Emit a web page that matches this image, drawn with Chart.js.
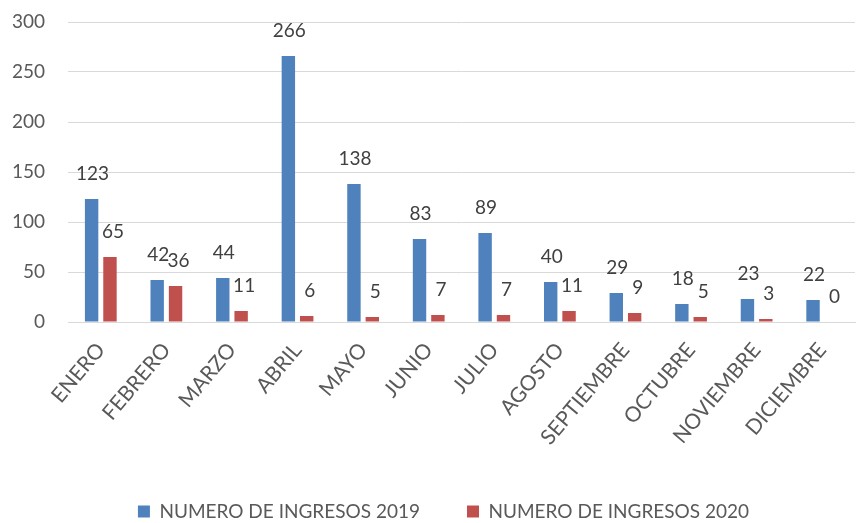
<!DOCTYPE html>
<html>
<head>
<meta charset="utf-8">
<script src="https://cdn.jsdelivr.net/npm/chart.js@4.4.1/dist/chart.umd.min.js"></script>
<style>
  html, body { margin: 0; padding: 0; background: #fff; }
  #wrap { width: 860px; height: 523px; position: relative; }
</style>
</head>
<body>
<div id="wrap"><canvas id="chart"></canvas></div>
<script>
const months = ['ENERO', 'FEBRERO', 'MARZO', 'ABRIL', 'MAYO', 'JUNIO', 'JULIO', 'AGOSTO', 'SEPTIEMBRE', 'OCTUBRE', 'NOVIEMBRE', 'DICIEMBRE'];
const ingresos2019 = [123, 42, 44, 266, 138, 83, 89, 40, 29, 18, 23, 22];
const ingresos2020 = [65, 36, 11, 6, 5, 7, 7, 11, 9, 5, 3, 0];
const yTicks = [0, 50, 100, 150, 200, 250, 300];

const FONT = "Lato, 'Noto Sans', sans-serif";
const TEXT = '#595959';

// value labels above each bar
const barLabels = {
  id: 'barLabels',
  afterDatasetsDraw(chart) {
    const ctx = chart.ctx;
    ctx.save();
    ctx.font = `19px ${FONT}`;
    ctx.fillStyle = '#404040';
    ctx.textAlign = 'center';
    ctx.textBaseline = 'bottom';
    chart.data.datasets.forEach((ds, i) => {
      const meta = chart.getDatasetMeta(i);
      meta.data.forEach((bar, j) => {
        ctx.fillText(String(ds.data[j]), bar.x + (i === 0 ? 1 : 3), bar.y - 16);
      });
    });
    ctx.restore();
  }
};

// legend sits a bit right of centre in the original
const legendShift = {
  id: 'legendShift',
  afterLayout(chart) {
    const lg = chart.legend;
    if (!lg) return;
    lg.left += 16;
    lg.right += 16;
  }
};

new Chart(document.getElementById('chart'), {
  type: 'bar',
  data: {
    labels: months,
    datasets: [
      { label: 'NUMERO DE INGRESOS 2019', data: ingresos2019, backgroundColor: '#4f81bd', categoryPercentage: 0.56, barPercentage: 0.73 },
      { label: 'NUMERO DE INGRESOS 2020', data: ingresos2020, backgroundColor: '#c0504d', categoryPercentage: 0.56, barPercentage: 0.73 },
    ],
  },
  options: {
    responsive: true,
    maintainAspectRatio: false,
    animation: false,
    layout: { padding: { top: 22, right: 5, left: 0, bottom: -8 } },
    plugins: {
      legend: {
        position: 'bottom',
        labels: { color: TEXT, font: { size: 19, family: FONT }, boxWidth: 12, boxHeight: 12, padding: 47 },
      },
      tooltip: { enabled: false },
    },
    scales: {
      y: {
        min: 0, max: 300,
        afterBuildTicks: (s) => { s.ticks = yTicks.map(v => ({ value: v })); },
        grid: { color: '#d9d9d9', drawTicks: false },
        border: { display: false },
        ticks: { color: TEXT, font: { size: 19, family: FONT }, padding: 23 },
        afterFit: (s) => { s.width = 68; s.paddingTop = 0; s.paddingBottom = 0; },
      },
      x: {
        grid: { display: false },
        border: { color: '#d9d9d9' },
        ticks: { color: TEXT, font: { size: 21, family: FONT }, minRotation: 50, maxRotation: 50, padding: 8 },
        afterFit: (s) => { s.height = 133; },
      },
    },
  },
  plugins: [barLabels, legendShift],
});
</script>
</body>
</html>
